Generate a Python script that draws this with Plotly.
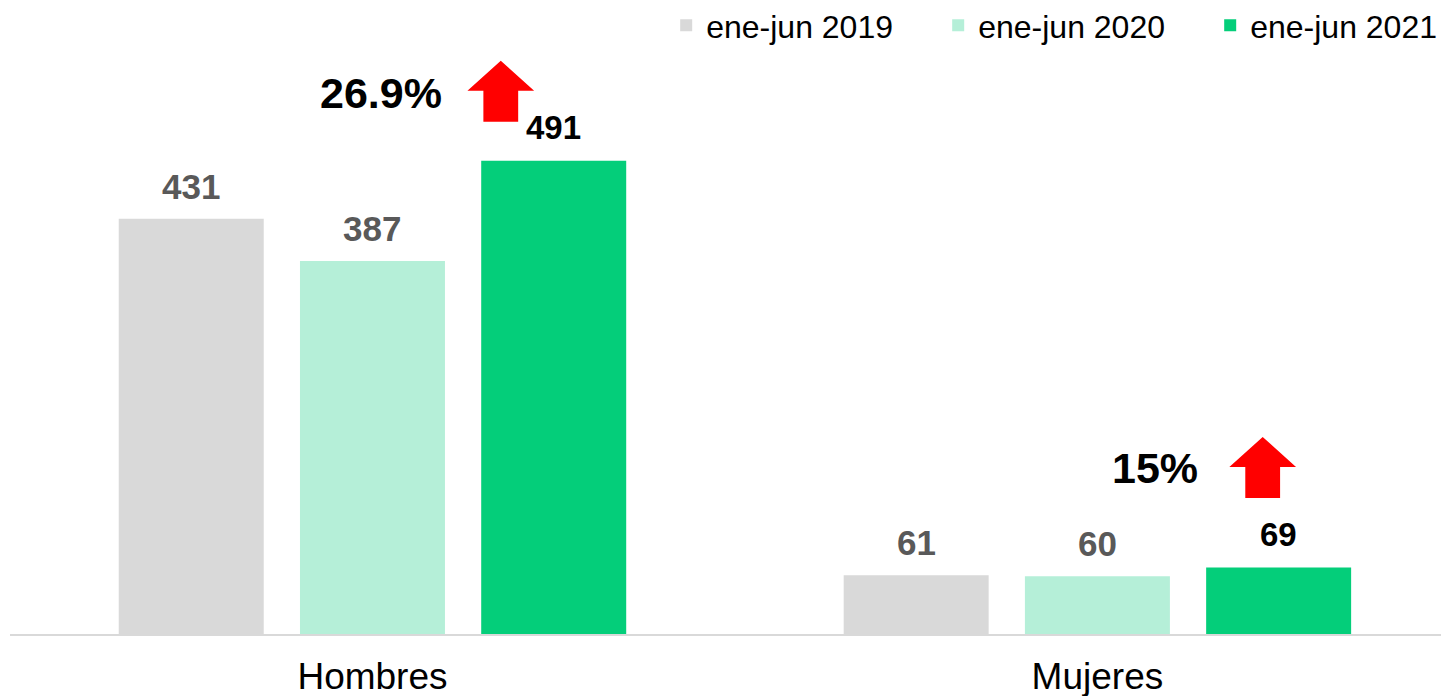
import plotly.graph_objects as go

categories = ["Hombres", "Mujeres"]
series_names = ["ene-jun 2019", "ene-jun 2020", "ene-jun 2021"]
values_2019 = [431, 61]
values_2020 = [387, 60]
values_2021 = [491, 69]
colors = ["#d9d9d9", "#b5efd8", "#04ce7a"]
label_colors = ["#595959", "#595959", "#000000"]
label_sizes = [35, 35, 33]

series = [values_2019, values_2020, values_2021]
FONT = "Arial, Liberation Sans, sans-serif"
BARGAP = 0.25
slot = (1 - BARGAP) / 3

fig = go.Figure()
for name, vals, col in zip(series_names, series, colors):
    fig.add_trace(go.Bar(x=categories, y=vals, name=name, marker=dict(color=col, line=dict(width=0)),
                         hoverinfo="skip"))

annotations = []
for si, vals in enumerate(series):
    for ci, v in enumerate(vals):
        annotations.append(dict(x=ci + (si - 1) * slot, y=v, xref="x", yref="y", text=f"<b>{v}</b>",
                                showarrow=False, yanchor="bottom", yshift=11 if si < 2 else 13,
                                font=dict(family=FONT, size=label_sizes[si], color=label_colors[si])))

# growth percentages and arrows (offsets above the 2021 bar, in data units)
arrow_dx = [0.177, 0.228]
pct_dx = [0.012, 0.079]
pct_dy = [70.6, 103.3]
arrow_dy = [(40.5, 72.7, 103.8), (72.2, 104.4, 135.5)]
for ci in range(2):
    growth = (values_2021[ci] / values_2020[ci] - 1) * 100
    txt = f"{growth:.1f}%" if abs(growth - round(growth)) > 0.05 else f"{round(growth)}%"
    base = values_2021[ci]
    annotations.append(dict(x=ci + pct_dx[ci], y=base + pct_dy[ci], xref="x", yref="y",
                            text=f"<b>{txt}</b>", showarrow=False,
                            font=dict(family=FONT, size=43, color="#000000")))
    cx = ci + arrow_dx[ci]
    hw, sw = 0.046, 0.024
    yb, yh, yt = (base + d for d in arrow_dy[ci])
    path = (f"M {cx - sw} {yb} L {cx + sw} {yb} L {cx + sw} {yh} L {cx + hw} {yh} "
            f"L {cx} {yt} L {cx - hw} {yh} L {cx - sw} {yh} Z")
    fig.add_shape(type="path", path=path, xref="x", yref="y", fillcolor="#ff0000",
                  line=dict(color="#ff0000", width=0))

fig.update_layout(
    width=1449, height=696,
    margin=dict(l=2, r=8, t=42, b=70, autoexpand=False),
    paper_bgcolor="white", plot_bgcolor="white",
    barmode="group", bargap=BARGAP, bargroupgap=0.2,
    font=dict(family=FONT, color="#000000"),
    showlegend=True,
    legend=dict(orientation="h", x=0.456, xanchor="left", y=0.995, yanchor="bottom",
                font=dict(family=FONT, size=32, color="#000000"), traceorder="normal",
                itemwidth=30, entrywidth=227, entrywidthmode="pixels",
                bgcolor="rgba(0,0,0,0)"),
    annotations=annotations,
)
fig.update_xaxes(range=[-0.5, 1.485], showline=True, linecolor="#d9d9d9", linewidth=2,
                 ticks="", showgrid=False, ticklabelstandoff=9, automargin=False,
                 tickfont=dict(family=FONT, size=37, color="#000000"))
fig.update_yaxes(range=[0, 606], visible=False, showgrid=False, zeroline=False, automargin=False)

fig.write_html("out.html")
